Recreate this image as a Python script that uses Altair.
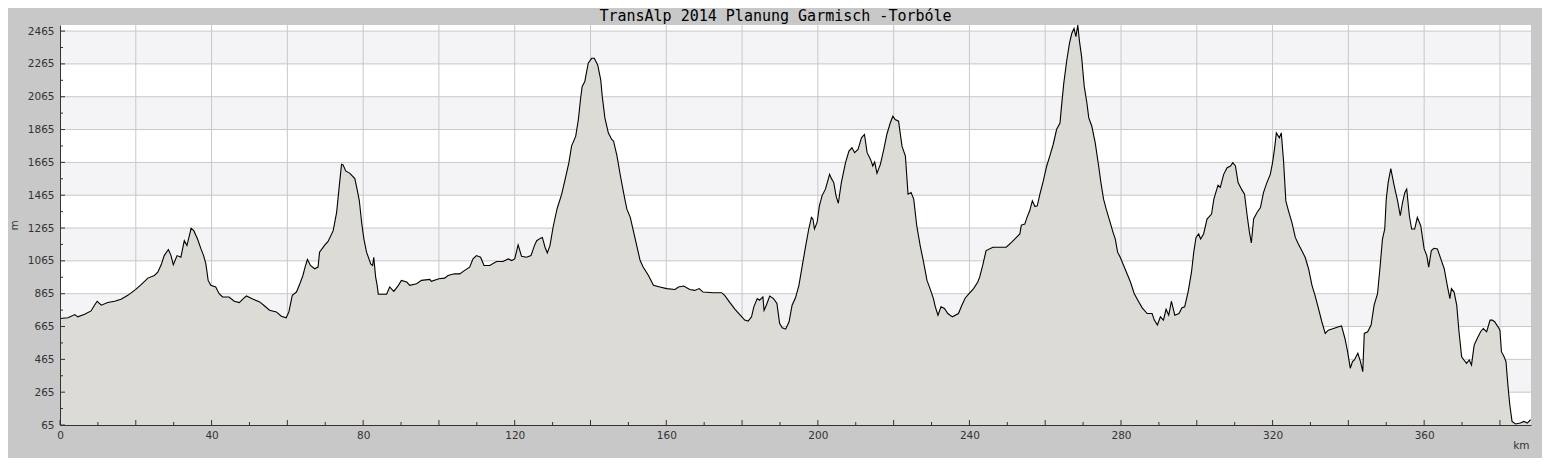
import altair as alt
import pandas as pd

TITLE = "TransAlp 2014 Planung Garmisch -Torbóle"

KM = [0, 2.1, 3.9, 4.7, 6.5, 8.2, 9.1, 9.8, 10.9, 12.6,
      14.4, 16.1, 17.9, 20, 21.4, 23.2, 24.9, 25.8, 26.7, 27.5,
      28.6, 29.3, 29.9, 30.9, 31.9, 32.8, 33.5, 34.6, 35.3, 36.3,
      37.2, 37.9, 38.5, 39.1, 39.8, 41.1, 42, 42.9, 44.6, 46,
      47.3, 48.6, 49.2, 51, 52.7, 54, 55.3, 57.1, 58.4, 59.7,
      60.4, 61.3, 62.4, 63.3, 64.1, 64.8, 65.3, 66.1, 67.2, 68.1,
      68.5, 69.9, 70.7, 72.1, 73, 73.7, 74.3, 74.7, 75.4, 76.5,
      77.8, 78.4, 79, 79.6, 80.2, 80.9, 82, 82.5, 82.8, 83.3,
      83.7, 84, 86.2, 87, 88.1, 89.3, 90.1, 91.5, 92.3, 94.1,
      95.4, 97.6, 98, 100, 101.5, 102.4, 104.1, 105.5, 106.8, 108.1,
      109, 109.9, 111, 111.9, 113.4, 115.2, 116.9, 118.3, 119.2, 120,
      120.9, 121.8, 123.1, 124.3, 125.2, 125.8, 126.7, 127.3, 128, 128.6,
      129.3, 130.2, 131.2, 132.4, 133.3, 134.3, 135, 136.1, 136.8, 137.4,
      137.8, 138.5, 139.4, 140.3, 141, 141.9, 142.7, 143.1, 143.8, 144.7,
      145.6, 146.1, 147, 147.9, 148.8, 149.6, 150.5, 151.4, 152.2, 153.1,
      153.9, 155.3, 156.6, 158.3, 160.1, 162.3, 163.2, 164.6, 166.2, 167.5,
      168.7, 169.7, 172.4, 174.6, 175.4, 176.8, 178.1, 179.4, 180.7, 181.6,
      182.5, 183.1, 184, 184.6, 185.5, 185.8, 186.4, 187.3, 188.3, 189.2,
      189.9, 190.6, 191.5, 192.4, 193.2, 194.1, 195, 195.9, 196.8, 197.6,
      198.3, 198.7, 199.1, 199.8, 200.4, 201.1, 202, 203.1, 203.6, 204.2,
      204.8, 205.4, 206.2, 207.3, 208.2, 209, 209.7, 210.6, 211.5, 212.3,
      213, 213.9, 214.5, 215, 215.6, 216.5, 217.4, 218.2, 219.1, 219.8,
      220.4, 221.3, 222.2, 223.1, 223.8, 224.6, 225.3, 226.1, 227, 227.9,
      228.8, 229.6, 230.5, 231, 231.7, 232.5, 233.4, 234.3, 235.5, 237.1,
      238, 238.9, 239.9, 241.1, 242.2, 242.7, 243.5, 244.4, 246.2, 248,
      249.7, 251.1, 252.4, 253.3, 253.7, 254.6, 255.2, 255.9, 256.6, 257.3,
      257.9, 258.6, 259.5, 260.4, 261.2, 262.1, 263, 263.9, 264.3, 264.9,
      265.7, 266.4, 267, 267.6, 268.1, 268.6, 269, 269.6, 270.3, 271,
      271.5, 272.3, 273.2, 274.1, 274.7, 275.4, 276.1, 277, 277.9, 278.5,
      279.1, 279.8, 280.7, 281.6, 282.5, 283.5, 284.7, 285.6, 286.9, 288.2,
      288.8, 289.6, 290.4, 291.2, 291.9, 292.6, 293.3, 294.2, 295.3, 296.1,
      296.8, 297.7, 298.6, 299.2, 299.8, 300.5, 301, 301.8, 302.7, 303.9,
      304.5, 305.6, 306.2, 307.1, 308, 308.9, 309.5, 310.2, 310.9, 311.8,
      312.6, 313.3, 313.9, 314.4, 315, 315.9, 316.8, 317.6, 318.5, 319.4,
      320, 320.5, 321, 321.8, 322.3, 322.9, 323.5, 324.2, 325.1, 326,
      326.8, 327.7, 328.6, 329.5, 330.4, 331.2, 332.1, 333, 333.9, 334.7,
      336.1, 337.4, 338.2, 339.1, 339.8, 340.5, 341.1, 341.6, 342.5, 343.2,
      343.8, 344.2, 345.1, 346, 346.8, 347.7, 348.4, 349, 349.6, 350,
      350.5, 351.2, 352.1, 353, 353.7, 354.3, 354.9, 355.4, 356.1, 356.7,
      357.5, 358.2, 359.1, 360, 360.7, 361.2, 361.9, 362.6, 363.5, 364.4,
      365.3, 366.1, 366.8, 367.2, 367.9, 368.6, 369.2, 369.9, 370.5, 371.2,
      371.9, 372.5, 373.2, 374, 374.9, 375.6, 376.5, 377.4, 378, 378.6,
      379.5, 380, 380.4, 381.1, 381.6, 382.1, 382.6, 383.2, 384.1, 385.4,
      386.3, 387.2, 388.1]

ELEV = [714, 718, 738, 724, 740, 760, 795, 819, 795, 811,
        819, 831, 855, 891, 920, 960, 976, 996, 1041, 1097,
        1134, 1097, 1041, 1097, 1087, 1188, 1158, 1263, 1249, 1198,
        1138, 1097, 1047, 946, 916, 906, 865, 845, 845, 819,
        811, 839, 851, 831, 815, 790, 764, 754, 728, 718,
        754, 855, 875, 926, 976, 1037, 1073, 1037, 1017, 1027,
        1118, 1162, 1182, 1249, 1360, 1522, 1653, 1650, 1613, 1598,
        1566, 1502, 1431, 1299, 1198, 1118, 1047, 1037, 1087, 966,
        916, 862, 862, 906, 879, 916, 946, 936, 916, 926,
        946, 952, 940, 956, 960, 976, 986, 986, 1007, 1027,
        1077, 1097, 1087, 1037, 1037, 1061, 1061, 1077, 1067, 1077,
        1162, 1093, 1087, 1097, 1158, 1188, 1202, 1208, 1148, 1113,
        1158, 1279, 1384, 1471, 1562, 1663, 1764, 1825, 1926, 2057,
        2128, 2158, 2269, 2299, 2299, 2259, 2168, 2067, 1936, 1845,
        1805, 1794, 1703, 1582, 1471, 1380, 1330, 1239, 1158, 1067,
        1027, 976, 916, 906, 896, 891, 906, 912, 891, 885,
        896, 875, 871, 871, 855, 811, 771, 738, 704, 698,
        724, 785, 835, 825, 845, 764, 795, 851, 835, 805,
        684, 657, 649, 694, 795, 840, 916, 1037, 1158, 1259,
        1330, 1320, 1259, 1299, 1400, 1461, 1502, 1592, 1566, 1542,
        1461, 1416, 1542, 1663, 1734, 1754, 1724, 1744, 1815, 1835,
        1724, 1683, 1643, 1667, 1598, 1653, 1744, 1835, 1905, 1946,
        1926, 1916, 1764, 1703, 1471, 1481, 1441, 1279, 1158, 1057,
        946, 896, 835, 785, 734, 785, 775, 744, 724, 744,
        795, 839, 865, 896, 936, 966, 1037, 1128, 1148, 1148,
        1148, 1178, 1208, 1229, 1283, 1289, 1330, 1370, 1431, 1396,
        1400, 1471, 1552, 1643, 1703, 1774, 1865, 1905, 2006, 2148,
        2289, 2390, 2450, 2481, 2431, 2501, 2410, 2309, 2128, 2027,
        1936, 1885, 1784, 1643, 1542, 1441, 1380, 1310, 1239, 1198,
        1118, 1087, 1037, 986, 936, 865, 815, 779, 744, 744,
        704, 674, 724, 704, 770, 734, 819, 734, 744, 779,
        785, 875, 996, 1118, 1208, 1229, 1198, 1229, 1320, 1350,
        1441, 1526, 1512, 1592, 1633, 1643, 1663, 1643, 1542, 1502,
        1471, 1340, 1239, 1174, 1320, 1360, 1390, 1481, 1542, 1592,
        1663, 1744, 1845, 1815, 1845, 1673, 1431, 1370, 1299, 1208,
        1168, 1128, 1087, 1017, 916, 855, 775, 694, 623, 643,
        653, 663, 669, 592, 512, 411, 451, 461, 502, 451,
        390, 623, 633, 674, 795, 865, 1037, 1198, 1259, 1441,
        1542, 1627, 1522, 1431, 1340, 1421, 1481, 1502, 1340, 1259,
        1259, 1330, 1279, 1138, 1097, 1027, 1128, 1142, 1138, 1077,
        1017, 916, 835, 896, 875, 795, 633, 481, 461, 441,
        461, 431, 552, 592, 633, 653, 633, 704, 704, 694,
        663, 643, 512, 481, 451, 309, 188, 87, 71, 77,
        87, 77, 97]

Y_LABELS = [65, 265, 465, 665, 865, 1065, 1265, 1465, 1665, 1865, 2065, 2265, 2465]
Y_MINOR = [165, 365, 565, 765, 965, 1165, 1365, 1565, 1765, 1965, 2165, 2365]
X_LABELS = [0, 40, 80, 120, 160, 200, 240, 280, 320, 360]
X_MAJOR = [0, 20, 40, 60, 80, 100, 120, 140, 160, 180, 200, 220, 240, 260, 280, 300, 320, 340, 360, 380]
X_MINOR = [10, 30, 50, 70, 90, 110, 130, 150, 170, 190, 210, 230, 250, 270, 290, 310, 330, 350, 370]
BAND_LOW = [265, 665, 1065, 1465, 1865, 2265]
BAND_HIGH = [465, 865, 1265, 1665, 2065, 2465]
X_DOMAIN = [0, 388.2]
Y_DOMAIN = [65, 2502]

W, H = 1471, 400

xs = alt.Scale(domain=X_DOMAIN, nice=False, zero=False)
ys = alt.Scale(domain=Y_DOMAIN, nice=False, zero=False)

X_AXIS = alt.Axis(values=X_LABELS, title="km", grid=False, ticks=False, tickSize=0,
                  labelPadding=5, domainColor="#333333", zindex=2, format="d",
                  labelFlush=False, labelOverlap=False,
                  titleX=W - 2, titleY=23, titleAlign="right", titleBaseline="alphabetic",
                  titleAngle=0)
Y_AXIS = alt.Axis(values=Y_LABELS, title="m", grid=False, ticks=False, tickSize=0,
                  labelPadding=6, domainColor="#333333", zindex=2, format="d",
                  labelFlush=False, labelOverlap=False,
                  titleX=-46, titleY=H / 2, titleAlign="center", titleBaseline="middle",
                  titleAngle=-90)

profile = pd.DataFrame({"km": KM, "elev": ELEV})
bands = pd.DataFrame({"lo": BAND_LOW, "hi": BAND_HIGH})
ygrid = pd.DataFrame({"v": Y_LABELS})
xgrid = pd.DataFrame({"v": X_MAJOR[1:]})
ymaj = pd.DataFrame({"v": Y_LABELS})
ymin = pd.DataFrame({"v": Y_MINOR})
xmaj = pd.DataFrame({"v": X_MAJOR})
xmin = pd.DataFrame({"v": X_MINOR})

GRID = "#c8c8c8"
tick_color = "#333333"


def xq(field):
    return alt.X(field, type="quantitative", scale=xs, axis=X_AXIS, title="km")


def yq(field):
    return alt.Y(field, type="quantitative", scale=ys, axis=Y_AXIS, title="m")


band_layer = alt.Chart(bands).mark_rect(color="#f4f3f6").encode(
    x=alt.X(datum=X_DOMAIN[0], scale=xs, axis=X_AXIS, title="km"),
    x2=alt.X2(datum=X_DOMAIN[1]),
    y=yq("lo"),
    y2="hi:Q",
)

hgrid = alt.Chart(ygrid).mark_rule(color=GRID, strokeWidth=1).encode(y=yq("v"))
vgrid = alt.Chart(xgrid).mark_rule(color=GRID, strokeWidth=1).encode(x=xq("v"))

area = alt.Chart(profile).mark_area(
    color="#dcdbd6", opacity=1, fillOpacity=1,
    line={"color": "#000000", "strokeWidth": 1.1}, clip=True
).encode(
    x=xq("km"),
    y=yq("elev"),
    y2=alt.Y2(datum=Y_DOMAIN[0]),
)

ytick_major = alt.Chart(ymaj).mark_rule(color=tick_color).encode(
    y=yq("v"), x=alt.value(0), x2=alt.value(5))
ytick_minor = alt.Chart(ymin).mark_rule(color=tick_color).encode(
    y=yq("v"), x=alt.value(0), x2=alt.value(3))
xtick_major = alt.Chart(xmaj).mark_rule(color=tick_color).encode(
    x=xq("v"), y=alt.value(H), y2=alt.value(H - 5))
xtick_minor = alt.Chart(xmin).mark_rule(color=tick_color).encode(
    x=xq("v"), y=alt.value(H), y2=alt.value(H - 3))

chart = alt.layer(
    band_layer, hgrid, vgrid, area, ytick_major, ytick_minor, xtick_major, xtick_minor
).properties(
    width=W, height=H,
    title=alt.TitleParams(TITLE, font="DejaVu Sans Mono", fontSize=15, fontWeight="normal",
                          color="#000000", anchor="middle", dx=-20, dy=4, offset=5),
    autosize=alt.AutoSizeParams(type="none"),
    padding={"left": 52, "top": 17, "right": 11, "bottom": 33},
    background="#c8c8c8",
).configure_view(
    fill="#ffffff", stroke=None
).configure_axis(
    grid=False, ticks=False,
    labelFont="DejaVu Sans", labelFontSize=10.5, labelColor="#333333",
    titleFont="DejaVu Sans", titleFontSize=10.5, titleFontWeight="normal", titleColor="#333333",
)

chart.save("out.html", embed_options={"renderer": "svg", "actions": False})
